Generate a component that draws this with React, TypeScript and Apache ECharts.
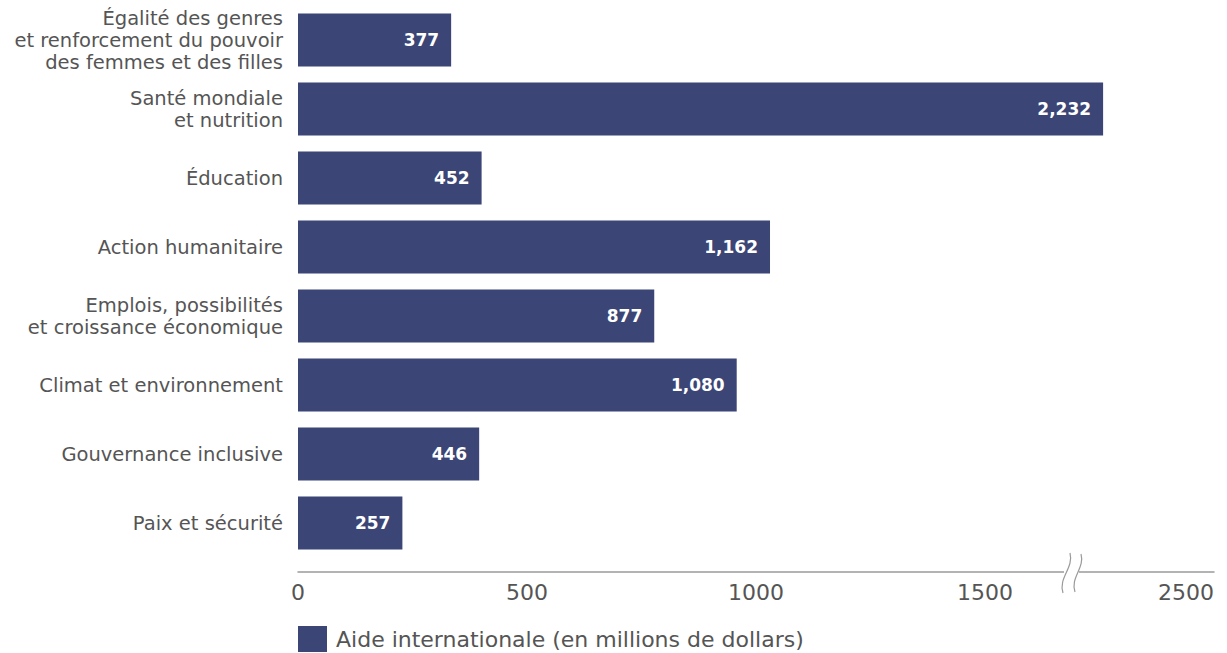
import React, { useEffect, useRef } from "react";
import * as echarts from "echarts";

const CATEGORIES = [
  "Égalité des genres\net renforcement du pouvoir\ndes femmes et des filles",
  "Santé mondiale\net nutrition",
  "Éducation",
  "Action humanitaire",
  "Emplois, possibilités\net croissance économique",
  "Climat et environnement",
  "Gouvernance inclusive",
  "Paix et sécurité",
];
const VALUES = [377, 2232, 452, 1162, 877, 1080, 446, 257];
const TICK_VALUES = [0, 500, 1000, 1500, 2000];
const TICK_LABELS = ["0", "500", "1000", "1500", "2500"];
const SERIES_NAME = "Aide internationale (en millions de dollars)";
const BREAK_START = 1500;
const BREAK_END = 1750;

const BAR_COLOR = "#3b4576";
const TEXT_COLOR = "#555555";
const FONT = "'DejaVu Sans', sans-serif";

export default function App() {
  const ref = useRef<HTMLDivElement>(null);
  useEffect(() => {
    if (!ref.current) return;
    const chart = echarts.init(ref.current, null, { renderer: "svg" });
    const option: any = {
      animation: false,
      grid: { left: 298, right: 13, top: 5.5, bottom: 95.5, containLabel: false },
      legend: {
        data: [SERIES_NAME],
        left: 298,
        top: 626,
        padding: 0,
        icon: "rect",
        itemWidth: 29,
        itemHeight: 26,
        textStyle: { fontSize: 22, color: TEXT_COLOR, fontFamily: FONT, padding: [0, 0, 0, 4] },
      },
      xAxis: [
        {
          type: "value",
          min: TICK_VALUES[0],
          max: TICK_VALUES[TICK_VALUES.length - 1],
          interval: 500,
          position: "bottom",
          offset: 14,
          axisLine: { show: true, lineStyle: { color: "#9a9a9a", width: 1.5 } },
          axisTick: { show: false },
          splitLine: { show: false },
          axisLabel: {
            fontSize: 22,
            color: TEXT_COLOR,
            fontFamily: FONT,
            margin: 10,
            alignMaxLabel: "right",
            formatter: (_v: number, i: number) => TICK_LABELS[i],
          },
        },
        {
          type: "value",
          show: false,
          min: 0,
          max: 2505,
          splitLine: { show: false },
          breaks: [{ start: BREAK_START, end: BREAK_END, gap: 0 }],
          breakArea: { show: false },
        },
      ],
      yAxis: {
        type: "category",
        data: CATEGORIES,
        inverse: true,
        axisLine: { show: false },
        axisTick: { show: false },
        axisLabel: {
          fontSize: 19.5,
          lineHeight: 22,
          color: TEXT_COLOR,
          fontFamily: FONT,
          margin: 15,
          align: "right",
        },
      },
      series: [
        {
          name: SERIES_NAME,
          type: "bar",
          xAxisIndex: 1,
          data: VALUES,
          barWidth: 53,
          itemStyle: { color: BAR_COLOR },
          label: {
            show: true,
            position: "insideRight",
            distance: 12,
            color: "#ffffff",
            fontWeight: "bold",
            fontSize: 17,
            fontFamily: FONT,
            formatter: (p: any) => Number(p.value).toLocaleString("en-US"),
          },
        },
      ],
      graphic: [
        { type: "rect", shape: { x: 1064, y: 566, width: 15, height: 10 }, style: { fill: "#ffffff" }, z: 100 },
        {
          type: "bezierCurve",
          shape: { x1: 1070, y1: 553, cpx1: 1074, cpy1: 568, cpx2: 1058, cpy2: 578, x2: 1063, y2: 593 },
          style: { stroke: "#9a9a9a", lineWidth: 1.2, fill: "none" },
          z: 101,
        },
        {
          type: "bezierCurve",
          shape: { x1: 1081, y1: 554, cpx1: 1085, cpy1: 568, cpx2: 1070, cpy2: 578, x2: 1075, y2: 592 },
          style: { stroke: "#9a9a9a", lineWidth: 1.2, fill: "none" },
          z: 101,
        },
      ],
    };
    chart.setOption(option);
    return () => chart.dispose();
  }, []);
  return (
    <div
      ref={ref}
      style={{ position: "fixed", left: 0, top: 0, width: 1227, height: 653, background: "#fff" }}
    />
  );
}
